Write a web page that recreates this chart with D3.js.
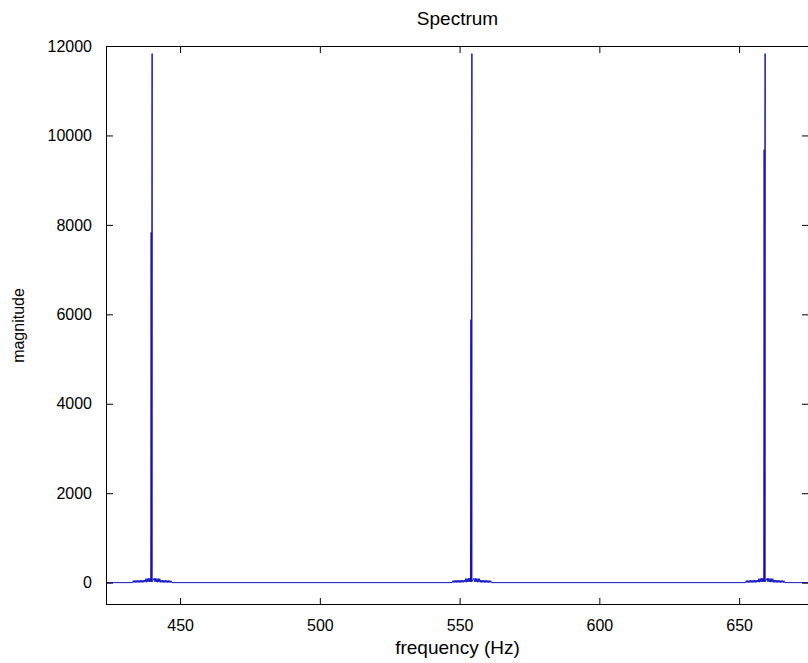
<!DOCTYPE html>
<html>
<head>
<meta charset="utf-8">
<script src="https://cdn.jsdelivr.net/npm/d3@7"></script>
<style>
  html, body { margin: 0; padding: 0; background: #fff; }
  svg text { font-family: "Liberation Sans", Arial, sans-serif; fill: #000; }
</style>
</head>
<body>
<div id="chart"></div>
<script>
// tick values
const xTicks = [450, 500, 550, 600, 650];
const yTicks = [0, 2000, 4000, 6000, 8000, 10000, 12000];

// the three tones (A4, C#5, E5)
const peakFreqs = [440.0, 554.4, 659.3];
const peakMags = [11830, 11830, 11830];
const shoulderMags = [7830, 5880, 9680];

// bins right around each peak (offset in Hz from the peak)
const coreOffsets = [-0.5, -0.35, -0.2, 0, 0.02];

// leakage skirt around each peak (offset in Hz, magnitude)
const skirtOffsets = [-7.0, -6.75, -6.5, -6.25, -6.0, -5.75, -5.5, -5.25, -5.0, -4.75, -4.5, -4.25, -4.0,
                      -3.75, -3.5, -3.25, -3.0, -2.75, -2.5, -2.25, -2.0, -1.75, -1.5, -1.25, -1.0, -0.75,
                      0.75, 1.0, 1.25, 1.5, 1.75, 2.0, 2.25, 2.5, 2.75, 3.0, 3.25, 3.5, 3.75,
                      4.0, 4.25, 4.5, 4.75, 5.0, 5.25, 5.5, 5.75, 6.0, 6.25, 6.5, 6.75, 7.0];
const skirtMags = [0, 45, 3, 48, 2, 50, 4, 52, 3, 50, 5, 54, 4,
                   55, 6, 56, 8, 58, 12, 88, 10, 92, 14, 96, 16, 100,
                   100, 18, 95, 14, 92, 10, 90, 12, 88, 8, 58, 6, 55,
                   5, 54, 4, 52, 3, 50, 4, 48, 2, 46, 3, 42, 0];

// flat floor of the spectrum between the tones
const floorFreqs = [423.5, 675];
const floorMags = [0, 0];

const W = 808, H = 663;
const margin = { top: 46, right: -1, bottom: 58, left: 106 };
const width = W - margin.left - margin.right;
const height = H - margin.top - margin.bottom;

// build the series
let series = floorFreqs.map((f, i) => ({ f, m: floorMags[i] }));
peakFreqs.forEach((pf, k) => {
  skirtOffsets.forEach((o, i) => series.push({ f: pf + o, m: skirtMags[i] }));
  const coreMags = [20, shoulderMags[k], 20, peakMags[k], 20];
  coreOffsets.forEach((o, i) => series.push({ f: pf + o, m: coreMags[i] }));
});
series.sort((a, b) => a.f - b.f);

const svg = d3.select('#chart').append('svg')
  .attr('width', W).attr('height', H);
svg.append('rect').attr('width', W).attr('height', H).attr('fill', '#fff');

const g = svg.append('g').attr('transform', `translate(${margin.left},${margin.top})`);

const x = d3.scaleLinear().domain([423.5, 675]).range([0, width]);
const y = d3.scaleLinear().domain([-500, 12000]).range([height, 0]);

// data line
g.append('path')
  .datum(series)
  .attr('fill', 'none')
  .attr('stroke', '#1010c0')
  .attr('stroke-width', 1)
  .attr('d', d3.line().x(d => x(d.f)).y(d => y(d.m)));

// box + inward ticks on all four sides (matlab style)
const tickLen = 7;
const axisStyle = sel => {
  sel.select('.domain').remove();
  sel.selectAll('line').attr('stroke', '#000');
  sel.selectAll('text').style('font-size', '16px');
};

g.append('g')
  .attr('transform', `translate(0,${height})`)
  .call(d3.axisBottom(x).tickValues(xTicks).tickSizeInner(-tickLen).tickSizeOuter(0).tickPadding(15).tickFormat(d3.format('d')))
  .call(axisStyle);

g.append('g')
  .call(d3.axisTop(x).tickValues(xTicks).tickSizeInner(-tickLen).tickSizeOuter(0).tickFormat(''))
  .call(axisStyle);

g.append('g')
  .call(d3.axisLeft(y).tickValues(yTicks).tickSizeInner(-tickLen).tickSizeOuter(0).tickPadding(14).tickFormat(d3.format('d')))
  .call(axisStyle);

g.append('g')
  .attr('transform', `translate(${width},0)`)
  .call(d3.axisRight(y).tickValues(yTicks).tickSizeInner(-tickLen).tickSizeOuter(0).tickFormat(''))
  .call(axisStyle);

g.append('rect')
  .attr('x', 0.5).attr('y', 0.5)
  .attr('width', width - 1).attr('height', height - 1)
  .attr('fill', 'none')
  .attr('stroke', '#000')
  .attr('stroke-width', 1);

// titles
svg.append('text')
  .attr('x', margin.left + width / 2)
  .attr('y', 25)
  .attr('text-anchor', 'middle')
  .style('font-size', '19px')
  .text('Spectrum');

svg.append('text')
  .attr('x', margin.left + width / 2)
  .attr('y', 654)
  .attr('text-anchor', 'middle')
  .style('font-size', '19px')
  .text('frequency (Hz)');

svg.append('text')
  .attr('transform', `translate(24,${margin.top + height / 2}) rotate(-90)`)
  .attr('text-anchor', 'middle')
  .style('font-size', '16px')
  .text('magnitude');
</script>
</body>
</html>
